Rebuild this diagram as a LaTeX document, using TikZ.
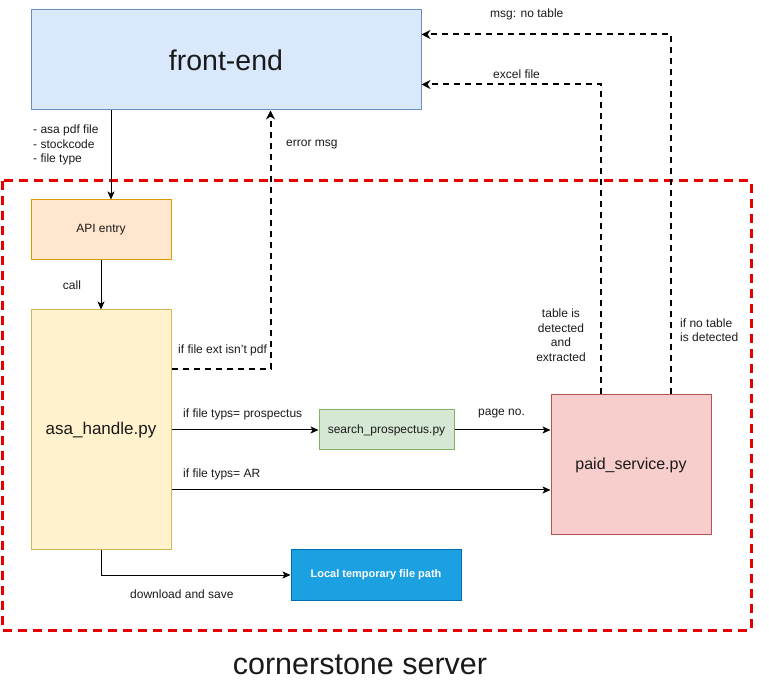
\documentclass[tikz,border=0pt]{standalone}
\usepackage{fontspec}
\setmainfont{Liberation Sans}
\usetikzlibrary{arrows.meta,calc}
\definecolor{feFill}{HTML}{DAE8FC}\definecolor{feLine}{HTML}{6C8EBF}
\definecolor{apiFill}{HTML}{FFE6CC}\definecolor{apiLine}{HTML}{D79B00}
\definecolor{asaFill}{HTML}{FFF2CC}\definecolor{asaLine}{HTML}{D6B656}
\definecolor{spFill}{HTML}{D5E8D4}\definecolor{spLine}{HTML}{82B366}
\definecolor{pdFill}{HTML}{F8CECC}\definecolor{pdLine}{HTML}{B85450}
\definecolor{locFill}{HTML}{1BA1E2}\definecolor{locLine}{HTML}{006EAF}
\definecolor{srvRed}{HTML}{E60000}
\definecolor{txt}{HTML}{1A1A1A}
\tikzset{
  box/.style={draw, line width=1pt, inner sep=0pt, text=txt},
  arr/.style={line width=1pt, -{Stealth[length=8pt,width=7pt,inset=2pt]}},
  darr/.style={line width=2pt, dash pattern=on 6pt off 5pt, -{Stealth[length=9pt,width=9pt,inset=3pt]}},
  lbl/.style={inner sep=0pt, text=txt, font=\fontsize{12}{14.5}\selectfont},
}
\begin{document}
\begin{tikzpicture}[x=1pt,y=-1pt]
\useasboundingbox (0,0) rectangle (769,684);
% server boundary
\draw[srvRed, line width=3pt, dash pattern=on 9pt off 6pt] (2,181) rectangle (751,630);
\node[lbl, font=\fontsize{30.5}{33}\selectfont] (srv) at (360,665) {cornerstone server};

% boxes
\node[box, fill=feFill, draw=feLine, minimum width=390pt, minimum height=100pt, font=\fontsize{28.5}{31}\selectfont] (fe) at (226,60) {front-end};
\node[box, fill=apiFill, draw=apiLine, minimum width=140pt, minimum height=60pt, font=\fontsize{12}{14}\selectfont] (api) at (101,230) {API entry};
\node[box, fill=asaFill, draw=asaLine, minimum width=140pt, minimum height=240pt, font=\fontsize{17}{20}\selectfont] (asa) at (101,430) {asa\_handle.py};
\node[box, fill=spFill, draw=spLine, minimum width=135pt, minimum height=40pt, font=\fontsize{12}{14}\selectfont] (sp) at (386.5,430) {search\_prospectus.py};
\node[box, fill=pdFill, draw=pdLine, minimum width=160pt, minimum height=140pt, font=\fontsize{16}{19}\selectfont] (pd) at (631,465) {paid\_service.py};
\node[box, fill=locFill, draw=locLine, minimum width=170pt, minimum height=50pt, text=white, font=\bfseries\fontsize{11}{13}\selectfont] (loc) at (376,575) {Local temporary file path};

% connectors
\path (api.north) ++(10,0) coordinate (apiIn);
\draw[arr] (fe.south -| apiIn) -- (apiIn);
\draw[arr] (api) -- (asa);
\draw[darr] ($(asa.north east)+(0,60)$) -| ($(fe.south west)+(240,0)$);
\draw[arr] (asa.east |- sp.west) -- (sp.west);
\draw[arr] (sp.east) -- (pd.west |- sp.east);
\path (asa.east) ++(0,60) coordinate (arOut);
\draw[arr] (arOut) -- (pd.west |- arOut);
\draw[arr] (asa.south) |- (loc.west);
\draw[darr] ($(pd.north west)+(50,0)$) |- ($(fe.north east)+(0,75)$);
\draw[darr] ($(pd.north west)+(120,0)$) |- ($(fe.north east)+(0,25)$);

% labels
\node[lbl, anchor=north west, align=left] (l1) at (33,125) {- asa pdf file\\- stockcode\\- file type};
\node[lbl] (l2) at (72,285) {call};
\node[lbl, anchor=west] (l3) at (286,145) {error msg};
\node[lbl, anchor=west] (l4) at (178,350) {if file ext isn't pdf};
\node[lbl, anchor=west] (l5) at (183,414) {if file typs= prospectus};
\node[lbl, anchor=west] (l6) at (478,414) {page no.};
\node[lbl, anchor=west] (l7) at (183,474) {if file typs= AR};
\node[lbl, anchor=west] (l8) at (130,594) {download and save};
\node[lbl, anchor=west] (l9) at (493,74) {excel file};
\node[lbl, anchor=west] (l10) at (490,14) {msg: no table};
\node[lbl, align=center] (l11) at (561,335) {table is\\detected\\and\\extracted};
\node[lbl, anchor=west, align=left] (l12) at (680,330) {if no table\\is detected};
\end{tikzpicture}
\end{document}
